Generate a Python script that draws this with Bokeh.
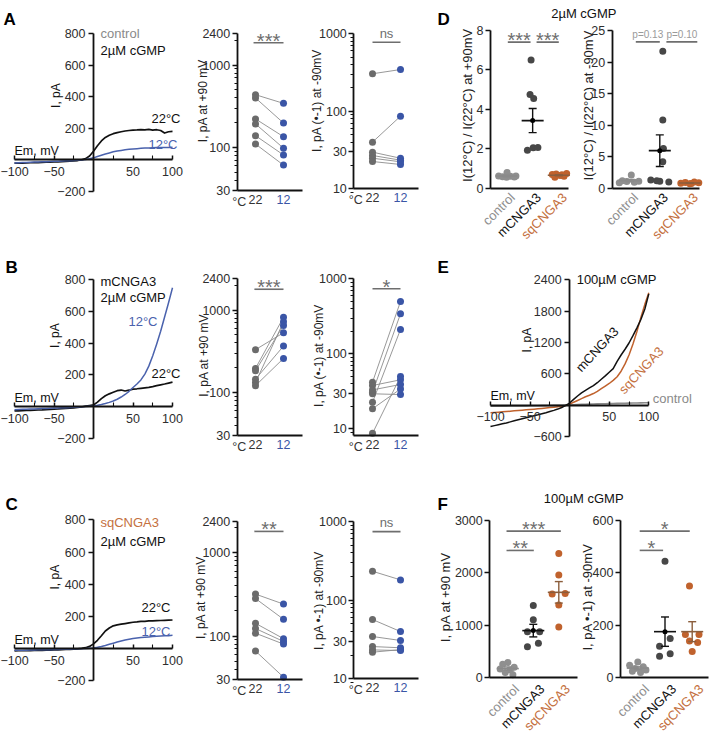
import math
from bokeh.plotting import figure
from bokeh.models import (LinearAxis, LogAxis, FixedTicker, Label, Range1d,
                          PrintfTickFormatter, LogScale)
from bokeh.layouts import row, column
from bokeh.embed import file_html
from bokeh.resources import INLINE

# ---------------- data ----------------
mv = [-100, -95, -90, -85, -80, -75, -70, -65, -60, -55, -50, -45, -40, -35, -30, -25, -20, -15, -10, -5,
      0, 5, 10, 15, 20, 25, 30, 35, 40, 45, 50, 55, 60, 65, 70, 75, 80, 85, 90, 95, 100]

A_iv_22 = [-21, -20, -20, -19, -18, -17, -17, -16, -15, -14, -13, -12, -11, -10, -8, -6, -4, 0, 8, 25,
           55, 90, 120, 142, 156, 166, 173, 178, 183, 186, 189, 190, 192, 190, 193, 189, 191, 186, 170, 178, 180]
A_iv_12 = [-19, -18, -17, -16, -15, -14, -13, -12, -11, -10, -9, -8, -7, -6, -5, -4, -2, 0, 3, 7,
           13, 21, 29, 37, 44, 51, 56, 60, 64, 67, 69, 71, 73, 75, 76, 77, 78, 78, 79, 79, 80]
B_iv_22 = [-28, -27, -26, -25, -24, -23, -22, -21, -19, -18, -16, -15, -13, -12, -10, -8, -6, -3, 2, 6,
           10, 28, 50, 68, 80, 90, 100, 104, 98, 103, 110, 112, 115, 118, 121, 126, 132, 137, 142, 148, 154]
B_iv_12 = [-20, -19, -18, -17, -16, -15, -14, -13, -12, -11, -10, -9, -8, -7, -6, -5, -4, -2, 0, 2,
           4, 8, 13, 19, 26, 35, 46, 60, 76, 96, 120, 142, 168, 205, 255, 320, 395, 475, 565, 655, 750]
C_iv_22 = [-14, -13, -13, -12, -12, -11, -11, -10, -9, -9, -8, -7, -6, -5, -4, -3, -1, 2, 6, 14,
           30, 52, 80, 110, 128, 142, 148, 152, 156, 160, 164, 166, 169, 170, 172, 173, 174, 175, 176, 177, 178]
C_iv_12 = [-10, -10, -9, -9, -8, -8, -7, -7, -6, -6, -5, -5, -4, -3, -3, -2, -1, 0, 1, 3,
           5, 9, 14, 20, 27, 34, 41, 48, 54, 59, 63, 66, 69, 71, 73, 75, 77, 79, 80, 81, 83]
E_iv_m = [-410, -392, -375, -357, -340, -320, -300, -280, -260, -241, -222, -203, -185, -165, -145, -123, -100, -75, -45, -5,
          40, 110, 175, 235, 285, 330, 375, 430, 495, 560, 630, 700, 840, 960, 1070, 1190, 1330, 1480, 1640, 1840, 2130]
E_iv_sq = [-146, -140, -134, -128, -122, -115, -109, -102, -96, -89, -83, -76, -69, -62, -55, -47, -39, -30, -20, -8,
           20, 55, 90, 125, 160, 190, 222, 265, 315, 365, 415, 475, 545, 650, 790, 960, 1170, 1410, 1680, 1930, 2150]
E_iv_ctrl = [-22, -21, -20, -19, -18, -17, -16, -15, -14, -13, -12, -11, -10, -9, -8, -6, -5, -3, -2, 0,
             3, 8, 12, 15, 18, 20, 22, 24, 26, 28, 30, 32, 34, 36, 37, 39, 40, 42, 43, 45, 46]

temp_labels = ["22", "12"]
A_p90_22 = [437, 399, 222, 193, 139, 110]
A_p90_12 = [343, 198, 135, 98, 81, 61]
A_m90_22 = [305, 40, 29.7, 26.9, 24.8, 22.5]
A_m90_12 = [346, 86.5, 24.8, 23.4, 22.3, 20.6]
B_p90_22 = [331, 196, 184, 145, 132, 121]
B_p90_12 = [531, 818, 650, 366, 720, 259]
B_m90_22 = [41.9, 37.8, 30.8, 29.3, 22.6, 18.5, 8.7, 33]
B_m90_12 = [498, 45, 341, 28.6, 211, 34, 49.8, 39]
C_p90_22 = [319, 282, 142, 123, 108, 66]
C_p90_12 = [242, 159, 93, 86, 80, 32]
C_m90_22 = [233, 56.7, 34.5, 25.7, 23.3, 21.8]
C_m90_12 = [181, 39.9, 30.7, 24.8, 22.9, 23.5]

groups = ["control", "mCNGA3", "sqCNGA3"]
D1_ctrl = [0.62, 0.58, 0.55, 0.80, 0.60, 0.57, 0.62]
D1_mcn = [6.5, 4.75, 4.55, 1.92, 2.05, 2.07]
D1_sq = [0.70, 0.72, 0.65, 0.60, 0.55, 0.75, 0.68]
D1_mean = [0.62, 3.43, 0.66]
D1_sem = [0.04, 0.61, 0.03]
D2_ctrl = [2.1, 1.2, 1.05, 0.95, 1.1, 0.85]
D2_mcn = [21.7, 10.8, 6.3, 4.2, 1.3, 1.1, 1.0, 1.2]
D2_sq = [0.8, 0.9, 0.7, 1.0, 0.85, 0.75]
D2_mean = [1.2, 5.95, 0.83]
D2_sem = [0.18, 2.5, 0.05]
F1_ctrl = [290, 260, 200, 170, 150, 100, 60]
F1_mcn = [1380, 1107, 880, 880, 660, 590]
F1_sq = [2370, 1960, 1600, 1610, 1390, 970]
F1_mean = [176, 900, 1630]
F1_sem = [30, 120, 205]
F2_ctrl = [60, 48, 42, 35, 30, 25, 20]
F2_mcn = [445, 150, 120, 92, 82]
F2_sq = [350, 165, 165, 140, 135, 100]
F2_mean = [37, 176, 176]
F2_sem = [5, 56, 38]

# horizontal scatter of the dots inside each group (category units)
J_D1 = [[-0.30, -0.15, 0.0, 0.02, 0.15, 0.30, 0.36], [-0.06, -0.10, 0.04, -0.20, 0.02, 0.20],
        [-0.25, -0.10, 0.05, 0.20, -0.15, 0.30, 0.12]]
J_D2 = [[0.05, -0.25, -0.10, 0.15, 0.30, -0.35], [0.10, 0.10, 0.12, 0.10, -0.30, 0.0, 0.30, -0.10],
        [-0.30, -0.15, 0.0, 0.15, 0.30, 0.05]]
J_F1 = [[0.0, -0.2, 0.25, -0.3, 0.1, -0.1, 0.2], [0.0, 0.0, -0.23, 0.25, 0.2, -0.23],
        [0.0, 0.0, -0.26, 0.25, 0.0, 0.0]]
J_F2 = [[0.0, -0.3, 0.2, -0.1, 0.3, -0.2, 0.1], [0.0, 0.19, -0.2, 0.19, -0.2],
        [-0.1, -0.25, 0.25, -0.1, 0.2, 0.0]]

# ---------------- style ----------------
FONT = "Liberation Sans"
TICK_FS = "12.5px"
INK = "#111111"
TICK_INK = "#2e2e2e"
BLUE_LINE = "#4a62ad"
GRAY22 = "#6b6b6b"
BLUE12 = "#3a55a6"
LINK = "#8c8c8c"
SIG = "#6e6e6e"
CTRL = "#8f8f8f"
MCN = "#474747"
SQ = "#c0622d"
SQ_TEXT = "#c47040"
GROUP_COLORS = [CTRL, MCN, SQ]
GROUP_TEXT = ["#8f8f8f", "#111111", SQ_TEXT]
MEAN_COLORS = ["#8a8a8a", "#111111", "#8b5e3c"]
STAR_FS = "20px"


def xmap(v0, p0, v1, p1, size):
    k = (v1 - v0) / (p1 - p0)
    return (v0 - p0 * k, v0 + (size - p0) * k)


def ymap(vtop, ptop, vbot, pbot, size):
    k = (vbot - vtop) / (pbot - ptop)
    return (vtop + (size - ptop) * k, vtop - ptop * k)


def ymap_log(vtop, ptop, vbot, pbot, size):
    a, b = ymap(math.log10(vtop), ptop, math.log10(vbot), pbot, size)
    return (10 ** a, 10 ** b)


def canvas_fig(w, h, xr, yr):
    p = figure(width=w, height=h, x_range=Range1d(*xr), y_range=Range1d(*yr),
               x_axis_type=None, y_axis_type=None, min_border=0, min_border_left=0,
               min_border_right=0, min_border_top=0, min_border_bottom=0,
               toolbar_location=None, output_backend="svg")
    p.outline_line_color = None
    return p


def style_axis(ax):
    ax.axis_line_color = INK
    ax.axis_line_width = 1.8
    ax.major_tick_line_color = INK
    ax.major_tick_line_width = 1.5
    ax.major_tick_out = 5
    ax.major_tick_in = 0
    ax.minor_tick_line_color = INK
    ax.minor_tick_line_width = 1.1
    ax.minor_tick_out = 3
    ax.minor_tick_in = 0
    ax.major_label_text_font = FONT
    ax.major_label_text_font_size = TICK_FS
    ax.major_label_text_color = TICK_INK
    ax.major_label_standoff = 2


def lab(x, y, text, size="13px", color=INK, align="left", baseline="middle",
        xo=0, yo=0, angle=0, style="normal", rn="default"):
    return Label(x=x, y=y, text=text, text_font=FONT, text_font_size=size,
                 text_color=color, text_align=align, text_baseline=baseline,
                 x_offset=xo, y_offset=yo, angle=angle, text_font_style=style,
                 x_range_name=rn, y_range_name=rn)


def sig_label(x, y, text, rn="default"):
    if text.startswith("*"):
        return lab(x, y, text, size=STAR_FS, color=SIG, align="center", yo=2, rn=rn)
    if text.startswith("p="):
        return lab(x, y, text, size="10px", color="#9a9a9a", align="center", yo=7, rn=rn)
    return lab(x, y, text, size="13px", color=SIG, align="center", yo=9, rn=rn)


def iv_axes(p, ybounds, yticks):
    xax = LinearAxis(fixed_location=0, bounds=(-100, 100),
                     ticker=FixedTicker(ticks=[-100, -50, 50, 100], minor_ticks=[-75, -25, 25, 75]))
    style_axis(xax)
    xax.major_tick_in = 4
    xax.major_tick_out = 0
    xax.minor_tick_in = 4
    xax.minor_tick_out = 0
    xax.major_label_standoff = 7
    p.add_layout(xax, "below")
    yax = LinearAxis(fixed_location=0, bounds=ybounds, ticker=FixedTicker(ticks=yticks, minor_ticks=[]))
    style_axis(yax)
    yax.major_label_standoff = 3
    p.add_layout(yax, "left")


def iv_panel(w, h, xpix, ypix, ybounds, yticks, curves, labels):
    xr = xmap(-100, xpix[0], 100, xpix[1], w)
    yr = ymap(ybounds[1], ypix[0], ybounds[0], ypix[1], h)
    p = canvas_fig(w, h, xr, yr)
    iv_axes(p, ybounds, yticks)
    for vals, color, lw in curves:
        p.line(mv, vals, line_color=color, line_width=lw, line_join="round")
    for L in labels:
        p.add_layout(L)
    return p


def scatter_panel(w, h, x0pix, yanchor, ybounds, xb, major, minor, v22, v12,
                  ylabel, ylab_y, ylab_xo, sig):
    xr = xmap(0, x0pix, 1, x0pix + 28, w)
    yr = ymap_log(*yanchor, h)
    p = canvas_fig(w, h, xr, yr)
    p.y_scale = LogScale()
    ya = LogAxis(fixed_location=xb[0], bounds=ybounds,
                 ticker=FixedTicker(ticks=major, minor_ticks=minor),
                 formatter=PrintfTickFormatter(format="%d"))
    style_axis(ya)
    p.add_layout(ya, "left")
    xa = LinearAxis(fixed_location=ybounds[0], bounds=xb, ticker=FixedTicker(ticks=[], minor_ticks=[]))
    style_axis(xa)
    xa.major_tick_line_color = None
    xa.minor_tick_line_color = None
    p.add_layout(xa, "below")
    n = len(v22)
    p.segment(x0=[0] * n, y0=v22, x1=[1] * n, y1=v12, line_color=LINK, line_width=0.9)
    p.scatter([0] * n, v22, size=7, fill_color=GRAY22, line_color=None)
    p.scatter([1] * n, v12, size=7, fill_color=BLUE12, line_color=None)
    sx0, sx1, sy, stext = sig
    p.segment(x0=[sx0], y0=[sy], x1=[sx1], y1=[sy], line_color=SIG, line_width=1.6)
    p.add_layout(sig_label((sx0 + sx1) / 2, sy, stext))
    p.add_layout(lab(xb[0], ylab_y, ylabel, size="12px", align="center", angle=math.pi / 2,
                     xo=ylab_xo, color="#222222"))
    p.add_layout(lab(xb[0], ybounds[0], "°C", size="12.5px", color="#333333", baseline="top",
                     xo=-5, yo=-4))
    p.add_layout(lab(0, ybounds[0], temp_labels[0], size="12.5px", color="#333333", align="center",
                     baseline="top", yo=-4))
    p.add_layout(lab(1, ybounds[0], temp_labels[1], size="12.5px", color=BLUE12, align="center",
                     baseline="top", yo=-4))
    return p


def group_panel(p, rn, ppu, ypp, xb, ytop, yticks, data, jit, means, sems, ylabel, ylab_y, ylab_xo,
                sigs, cat_dx, cat_dy):
    rk = dict(x_range_name=rn, y_range_name=rn)
    ya = LinearAxis(fixed_location=xb[0], bounds=(0, ytop), ticker=FixedTicker(ticks=yticks, minor_ticks=[]), **rk)
    style_axis(ya)
    p.add_layout(ya, "left")
    xa = LinearAxis(fixed_location=0, bounds=xb, ticker=FixedTicker(ticks=[], minor_ticks=[]), **rk)
    style_axis(xa)
    xa.major_tick_line_color = None
    xa.minor_tick_line_color = None
    p.add_layout(xa, "below")
    hw = 11.0 / ppu
    cw = 4.0 / ppu
    for i, (vals, js) in enumerate(zip(data, jit)):
        p.scatter([i + j for j in js], vals, size=7, fill_color=GROUP_COLORS[i], line_color=None, **rk)
    for i in range(3):
        m, s, c = means[i], sems[i], MEAN_COLORS[i]
        p.segment(x0=[i - hw], y0=[m], x1=[i + hw], y1=[m], line_color=c, line_width=1.6, **rk)
        p.segment(x0=[i], y0=[m - s], x1=[i], y1=[m + s], line_color=c, line_width=1.4, **rk)
        p.segment(x0=[i - cw, i - cw], y0=[m - s, m + s], x1=[i + cw, i + cw], y1=[m - s, m + s],
                  line_color=c, line_width=1.4, **rk)
    p.scatter([1], [means[1]], size=5, fill_color="#000000", line_color=None, **rk)
    for sx0, sx1, sy, stext in sigs:
        p.segment(x0=[sx0], y0=[sy], x1=[sx1], y1=[sy], line_color=SIG, line_width=1.6, **rk)
        p.add_layout(sig_label((sx0 + sx1) / 2, sy, stext, rn=rn))
    p.add_layout(lab(xb[0], ylab_y, ylabel, size="13px", align="center", angle=math.pi / 2,
                     xo=ylab_xo, color="#222222", rn=rn))
    for i, g in enumerate(groups):
        p.add_layout(lab(i + cat_dx / ppu, -cat_dy * ypp, g, size="13px", color=GROUP_TEXT[i],
                         align="right", baseline="middle", angle=math.pi / 4, rn=rn))


LETTER = dict(size="17px", style="bold", baseline="top", color="#000000")

# ---------------- panels A-C ----------------
Aiv = iv_panel(190, 215, (14, 172), (33, 191), (-200, 800), [-200, 200, 400, 600, 800],
               [(A_iv_22, INK, 1.7), (A_iv_12, BLUE_LINE, 1.5)],
               [lab(-100, 800, "A", xo=-11, yo=24, **LETTER),
                lab(0, 800, "control", color="#8a8a8a", xo=7),
                lab(0, 800, "2µM cGMP", xo=7, yo=-17),
                lab(100, 259, "22°C", align="right", xo=8),
                lab(100, 97, "12°C", align="right", xo=5, color=BLUE_LINE),
                lab(-100, 0, "Em, mV", size="12.5px", baseline="bottom", yo=2),
                lab(0, 407, "I, pA", size="12px", align="center", angle=math.pi / 2, xo=-38)])
Biv = iv_panel(190, 240, (14, 172), (64.3, 222.7), (-200, 800), [-200, 200, 400, 600, 800],
               [(B_iv_22, INK, 1.7), (B_iv_12, BLUE_LINE, 1.5)],
               [lab(-100, 800, "B", xo=-9, yo=22, **LETTER),
                lab(0, 800, "mCNGA3", xo=7, yo=-2),
                lab(0, 800, "2µM cGMP", xo=7, yo=-18),
                lab(100, 210, "22°C", align="right", xo=8),
                lab(81, 536, "12°C", align="right", color=BLUE_LINE),
                lab(-100, 0, "Em, mV", size="12.5px", baseline="bottom", yo=2),
                lab(0, 448, "I, pA", size="12px", align="center", angle=math.pi / 2, xo=-39)])
Civ = iv_panel(190, 275, (14, 172), (64.3, 225.4), (-200, 800), [-200, 200, 400, 600, 800],
               [(C_iv_22, INK, 1.7), (C_iv_12, BLUE_LINE, 1.5)],
               [lab(-100, 800, "C", xo=-9, yo=25, **LETTER),
                lab(0, 800, "sqCNGA3", color=SQ_TEXT, xo=7, yo=-3),
                lab(0, 800, "2µM cGMP", xo=7, yo=-22),
                lab(100, 254, "22°C", align="right", xo=-2),
                lab(100, 109, "12°C", align="right", xo=-2, color=BLUE_LINE),
                lab(-100, 0, "Em, mV", size="12.5px", baseline="bottom", yo=2),
                lab(0, 444, "I, pA", size="12px", align="center", angle=math.pi / 2, xo=-39)])

MAJ1 = [30, 100, 1000, 2400]
MIN1 = [40, 50, 60, 70, 80, 90, 200, 300, 400, 500, 600, 700, 800, 900, 2000]
MAJ2 = [10, 30, 100, 1000]
MIN2 = [9, 20, 40, 50, 60, 70, 80, 90, 200, 300, 400, 500, 600, 700, 800, 900]
LAB1 = "I, pA at +90 mV"
LAB2 = "I, pA (•-1) at -90mV"
LAB2C = "I, pA •-1) at -90mV"
XB1 = (-0.654, 1.668)
XB2 = (-0.668, 1.643)

Asc1 = scatter_panel(120, 215, 65, (2400, 33.3, 30, 190), (30, 2400), XB1, MAJ1, MIN1,
                     A_p90_22, A_p90_12, LAB1, 370, -33.7, (-0.07, 1.0, 1867, "***"))
Asc2 = scatter_panel(120, 215, 62, (1000, 33.3, 10, 188.3), (10, 1000), XB2, MAJ2, MIN2,
                     A_m90_22, A_m90_12, LAB2, 138, -36.7, (0.0, 1.0, 779, "ns"))
Bsc1 = scatter_panel(120, 240, 65, (2400, 63.3, 30, 220), (30, 2400), XB1, MAJ1, MIN1,
                     B_p90_22, B_p90_12, LAB1, 283, -33.4, (-0.04, 1.0, 1792, "***"))
Bsc2 = scatter_panel(120, 240, 62, (1000, 63.3, 10, 213.3), (8.14, 1000), XB2, MAJ2, MIN2,
                     B_m90_22, B_m90_12, LAB2, 95, -35, (0.0, 1.0, 736, "*"))
Csc1 = scatter_panel(120, 275, 65, (2400, 65.7, 30, 224), (30, 2400), XB1, MAJ1, MIN1,
                     C_p90_22, C_p90_12, LAB1, 290, -36, (-0.04, 1.0, 1809, "**"))
Csc2 = scatter_panel(120, 275, 62, (1000, 66, 10, 223.3), (10, 1000), XB2, MAJ2, MIN2,
                     C_m90_22, C_m90_12, LAB2C, 99, -35, (0.0, 1.0, 744, "ns"))

# ---------------- panel D ----------------
WR = 280
D = canvas_fig(WR, 250, xmap(0, 76, 2, 128.3, WR), ymap(8, 30, 0, 187.7, 250))
D.extra_x_ranges = {"d2": Range1d(*xmap(0, 199.3, 2, 259.3, WR))}
D.extra_y_ranges = {"d2": Range1d(*ymap(25, 30, 0, 187.7, 250))}
group_panel(D, "default", 26.15, 8 / 157.7, (-0.61, 2.38), 8, [0, 2, 4, 6, 8],
            [D1_ctrl, D1_mcn, D1_sq], J_D1, D1_mean, D1_sem,
            "I(12°C) / I(22°C) at +90mV", 4.2, -23.3,
            [(0.05, 0.92, 7.41, "***"), (1.15, 2.0, 7.41, "***")], 6, 7)
group_panel(D, "d2", 30.0, 25 / 157.7, (-0.59, 2.32), 25, [0, 5, 10, 15, 20, 25],
            [D2_ctrl, D2_mcn, D2_sq], J_D2, D2_mean, D2_sem,
            "I(12°C) / I(22°C) at -90mV", 13.1, -23.4,
            [(0.2, 1.0, 23.2, "p=0.13"), (1.22, 2.25, 23.2, "p=0.10")], 6, 7)
D.add_layout(lab(-0.61, 8, "D", xo=-53, yo=21, **LETTER))
D.add_layout(lab(-0.61, 8, "2µM cGMP", align="center", xo=93.3, yo=16.7))

# ---------------- panel E ----------------
E = iv_panel(WR, 230, (60, 218.3), (29.3, 186), (-600, 2400), [-600, 600, 1200, 1800, 2400],
             [(E_iv_ctrl, "#8a8a8a", 1.6), (E_iv_sq, SQ, 1.5), (E_iv_m, INK, 1.5)],
             [lab(-100, 2400, "E", xo=-53, yo=22, **LETTER),
              lab(0, 2400, "100µM cGMP", xo=7),
              lab(100, 130, "control", color="#8a8a8a", xo=4),
              lab(34.7, 1067, "mCNGA3", align="center", angle=0.82),
              lab(90.3, 670, "sqCNGA3", align="center", angle=0.82, color=SQ_TEXT),
              lab(-100, 0, "Em, mV", size="12.5px", baseline="bottom", yo=2),
              lab(0, 1246, "I, pA", size="12px", align="center", angle=math.pi / 2, xo=-42.5)])

# ---------------- panel F ----------------
HF = 252
F = canvas_fig(WR, HF, xmap(0, 77.3, 2, 128.3, WR), ymap(3000, 40, 0, 197.3, HF))
F.extra_x_ranges = {"f2": Range1d(*xmap(0, 207.3, 2, 261.7, WR))}
F.extra_y_ranges = {"f2": Range1d(*ymap(600, 40, 0, 197.3, HF))}
group_panel(F, "default", 25.5, 3000 / 157.3, (-0.71, 2.72), 3000, [0, 1000, 2000, 3000],
            [F1_ctrl, F1_mcn, F1_sq], J_F1, F1_mean, F1_sem,
            "I, pA at +90 mV", 1538, -44.3,
            [(-0.05, 2.08, 2798, "***"), (-0.05, 1.02, 2429, "**")], 9, 9)
group_panel(F, "f2", 27.2, 600 / 157.3, (-0.64, 2.61), 600, [0, 200, 400, 600],
            [F2_ctrl, F2_mcn, F2_sq], J_F2, F2_mean, F2_sem,
            "I, pA •-1) at -90mV", 308, -33.3,
            [(0.07, 1.91, 559.6, "*"), (0.07, 0.93, 486, "*")], 9, 9)
F.add_layout(lab(-0.71, 3000, "F", xo=-52.3, yo=26, **LETTER))
F.add_layout(lab(-0.71, 3000, "100µM cGMP", align="center", xo=94, yo=21.7))

left = column(row(Aiv, Asc1, Asc2), row(Biv, Bsc1, Bsc2), row(Civ, Csc1, Csc2))
right = column(D, E, F)
root = row(left, right)

open("out.html", "w").write(file_html(root, INLINE))
